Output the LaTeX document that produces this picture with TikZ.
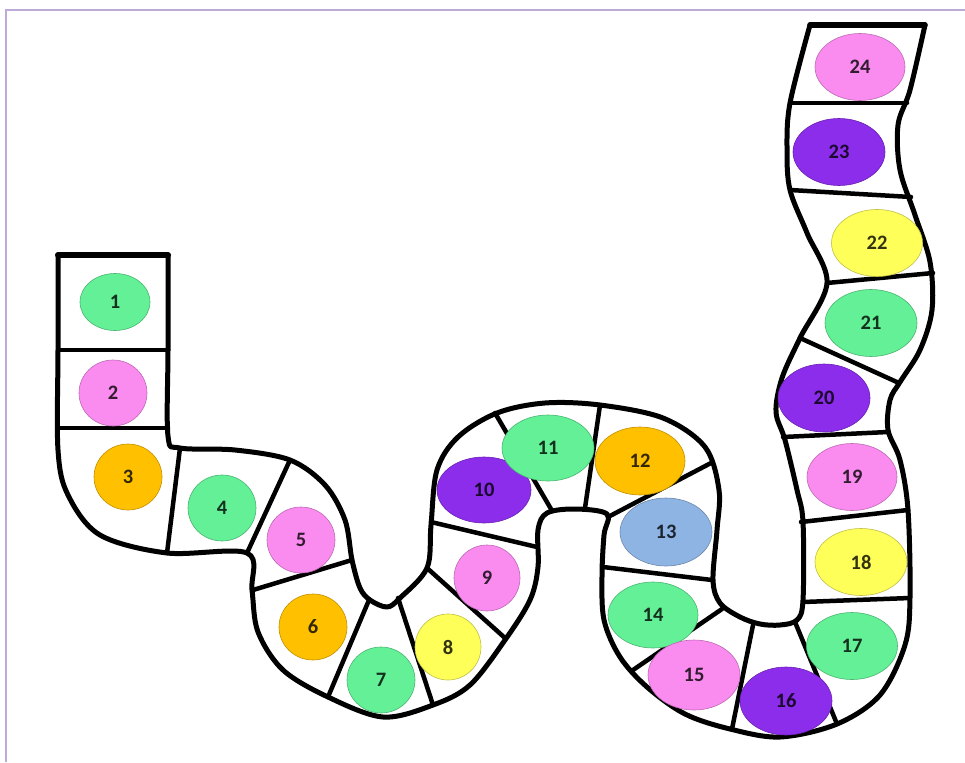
\documentclass[tikz,border=0pt]{standalone}
\usepackage{fontspec}
\setmainfont{Carlito}
\usetikzlibrary{shapes.geometric}
\definecolor{spotgreen}{RGB}{99,240,150}
\definecolor{spotpink}{RGB}{250,140,240}
\definecolor{spotorange}{RGB}{255,192,0}
\definecolor{spotyellow}{RGB}{255,255,90}
\definecolor{spotpurple}{RGB}{140,45,235}
\definecolor{spotblue}{RGB}{142,180,227}
\definecolor{framelilac}{RGB}{190,170,215}

\begin{document}
\begin{tikzpicture}[x=1pt,y=-1pt,
    edge/.style={line width=5pt,line join=round,line cap=round},
    wall/.style={line width=4.5pt,line cap=round},
    spot/.style={ellipse,inner sep=0pt,draw=#1!75!black,line width=0.6pt,fill=#1,
        text=#1!20!black,font=\fontsize{20.5}{20.5}\selectfont\bfseries}]
    \useasboundingbox (0,0) rectangle (965,762);

    % Frame
    \draw[framelilac,line width=1.2pt] (6,762) -- (6,10) -- (965,10);

    % Board outline
    \draw[edge,line width=6pt] (58,255) -- (168,255);
    \draw[edge,line width=5.5pt] (810,25) -- (925,25);
    \draw[edge] plot[smooth,tension=0.55] coordinates {
        (58,255) (58,350) (58,450) (68,495) (100,535) (167,553) (247,553)
        (252,590) (258,632) (283,670) (328,697) (383,717) (433,705) (470,685)
        (505,640) (530,600) (538,567) (538,530) (547,513) (575,509) (607,514)
        (604,535) (602,575) (604,620) (620,657) (647,687) (685,714) (730,729)
        (780,737) (837,724) (880,695) (905,645) (910,597) (908,510) (900,460)
        (888,430) (890,400) (900,382) (920,350) (932,310) (930,262) (915,215)
        (900,170) (898,125) (910,90) (925,25)};
    \draw[edge] plot[smooth,tension=0.55] coordinates {
        (168,255) (168,350) (168,436) (180,448) (235,450) (290,460) (325,485)
        (345,520) (352,560) (360,588) (370,600) (387,607) (400,598) (427,568)
        (431,525) (437,470) (458,437) (497,413) (545,403) (600,405) (663,418)
        (705,447) (719,490) (717,530) (713,580) (720,603) (740,617) (760,624)
        (780,625) (797,620) (803,600) (803,522) (797,490) (785,440) (776,412)
        (782,378) (800,338) (827,283) (807,233) (790,190) (787,150) (790,103)
        (810,25)};

    % Walls between squares
    \foreach \xa/\ya/\xb/\yb in {58/350/168/350, 58/428/168/428, 180/448/167/553,
        290/460/247/553, 253/590/352/560, 369/600/328/697, 398/598/433/705,
        427/568/505/638, 431/522/537/547, 495/413/551/509, 600/405/585/508,
        711/463/608/517, 603/567/712/580, 633/670/722/609, 753/625/732/729,
        795/622/837/724, 803/602/910/598, 801/522/908/510, 783/437/888/432,
        800/338/899/383, 827/283/933/273, 790/190/911/197, 790/103/907/103}
        \draw[wall] (\xa,\ya) -- (\xb,\yb);

    % Numbered spots
    \foreach \n/\x/\y/\w/\h/\c in {1/115/302/70/57/spotgreen, 2/113/393/68/66/spotpink,
        3/128/477/68/66/spotorange, 4/222/508/68/66/spotgreen, 5/301/540/68/66/spotpink,
        6/313/627/68/66/spotorange, 7/381/680/68/66/spotgreen, 8/448/647/66/66/spotyellow,
        9/487/578/66/66/spotpink, 10/484/490/94/66/spotpurple, 11/548/448/92/66/spotgreen,
        12/640/461/90/68/spotorange, 13/666/532/92/68/spotblue, 14/653/615/90/66/spotgreen,
        15/694/675/92/70/spotpink, 16/786/701/92/68/spotpurple, 17/852/646/91/67/spotgreen,
        18/861/562/92/67/spotyellow, 19/852/477/90/67/spotpink, 20/824/398/92/68/spotpurple,
        21/871/323/92/67/spotgreen, 22/877/243/91/67/spotyellow, 23/839/152/92/67/spotpurple,
        24/860/67/90/67/spotpink}
        \node[spot=\c,minimum width=\w,minimum height=\h] (s\n) at (\x,\y) {\n};
\end{tikzpicture}
\end{document}
